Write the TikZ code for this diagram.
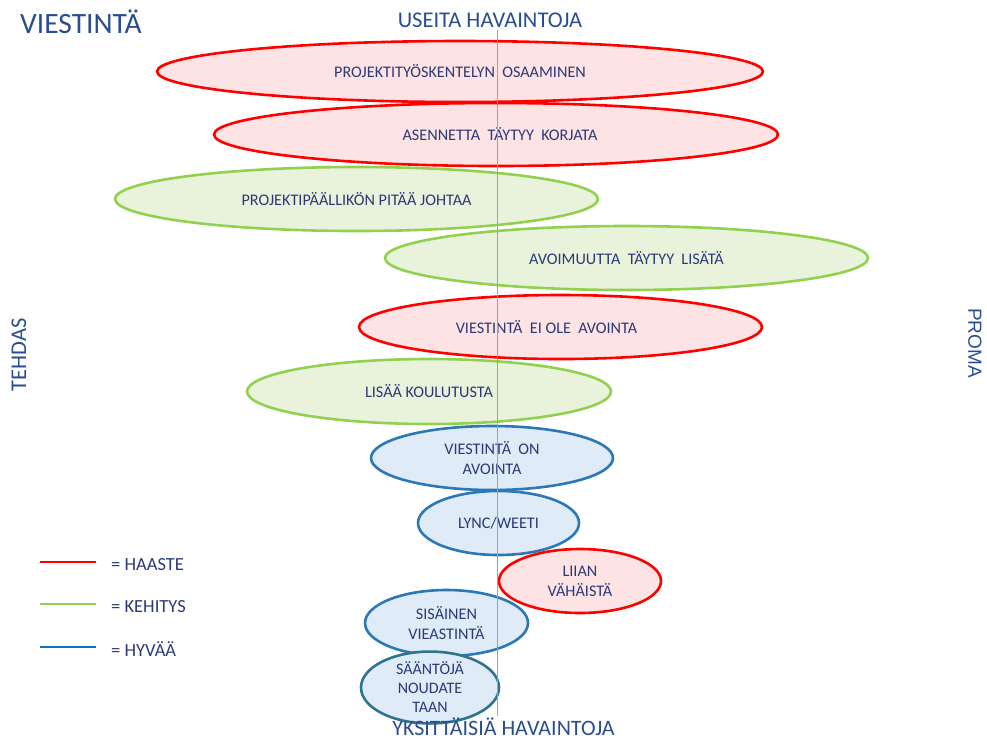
\documentclass[tikz,border=0pt]{standalone}
\usepackage{fontspec}
\setmainfont{Carlito}
\newfontfamily\arialfont{Liberation Sans}
\usetikzlibrary{shapes.geometric}

\definecolor{haasteline}{HTML}{FF0000}
\definecolor{haastefill}{HTML}{FDE3E3}
\definecolor{kehline}{HTML}{92D050}
\definecolor{kehfill}{HTML}{E9F3DC}
\definecolor{hyvline}{HTML}{2A78B6}
\definecolor{hyvdark}{HTML}{2F7390}
\definecolor{hyvfill}{HTML}{DFEBF6}
\definecolor{legblue}{HTML}{0E70C0}
\definecolor{bubbletext}{HTML}{2C3977}
\definecolor{headtext}{HTML}{2A4D92}
\definecolor{axisline}{HTML}{7FA8D8}

\tikzset{
  bubble/.style={ellipse, inner sep=0pt, line width=2.6pt, align=center,
    text=bubbletext, font=\fontsize{16.2}{20}\selectfont},
  haaste/.style={bubble, draw=haasteline, fill=haastefill},
  kehitys/.style={bubble, draw=kehline, fill=kehfill},
  hyvaa/.style={bubble, draw=hyvline, fill=hyvfill},
  bsize/.style 2 args={minimum width=#1pt, minimum height=#2pt},
  heading/.style={text=headtext, inner sep=0pt},
  legline/.style={line width=2.6pt},
  legtext/.style={text=bubbletext, inner sep=0pt, anchor=base west,
    font=\fontsize{18.5}{20}\selectfont},
}

\begin{document}
\begin{tikzpicture}[x=1pt,y=-1pt]
  \useasboundingbox (0,0) rectangle (987,740);

  % observation bubbles, from many observations to single ones
  \node[haaste, bsize={606}{61}] (e1) at (460,71.5) {PROJEKTITYÖSKENTELYN\ \ OSAAMINEN};
  \node[haaste, bsize={564}{63}] (e2) at (496,134.5) {\hspace*{8pt}ASENNETTA\ \ TÄYTYY\ \ KORJATA};
  \node[kehitys, bsize={483}{64}] (e3) at (356.5,199) {PROJEKTIPÄÄLLIKÖN PITÄÄ JOHTAA};
  \node[kehitys, bsize={483}{64}] (e4) at (626.5,258) {AVOIMUUTTA\ \ TÄYTYY\ \ LISÄTÄ};
  \node[haaste, bsize={403}{64}] (e5) at (560.5,327) {\hspace*{-28pt}VIESTINTÄ\ \ EI OLE\ \ AVOINTA};
  \node[kehitys, bsize={364}{65}] (e6) at (429,391.5) {LISÄÄ KOULUTUSTA};
  \node[hyvaa, bsize={242}{64}] (e7) at (492,458) {VIESTINTÄ\ \ ON\\AVOINTA};
  \node[hyvaa, bsize={161}{64}] (e8) at (498.5,523) {LYNC/WEETI};
  \node[haaste, bsize={162}{64}] (e9) at (580,581) {LIIAN\\VÄHÄISTÄ};
  \node[hyvaa, bsize={163}{66}] (e10) at (446.5,623) {SISÄINEN\\VIEASTINTÄ};
  \node[hyvaa, draw=hyvdark, bsize={138}{64}, font=\fontsize{16}{19}\selectfont] (e11) at (430,687.5) {SÄÄNTÖJÄ\\NOUDATE\\TAAN};

  % dividing axis between the two sides
  \coordinate (axtop) at (497,30);
  \coordinate (axbot) at (497,716);
  \draw[axisline, line width=1pt] (axtop) -- (axbot);

  % headings
  \node[heading, anchor=base west, font=\fontsize{29.5}{30}\selectfont] (title) at (20,33) {VIESTINTÄ};
  \node[heading, anchor=base, font=\fontsize{22.5}{24}\selectfont] (many) at (490,27) {USEITA HAVAINTOJA};
  \node[heading, anchor=base, font=\fontsize{22}{24}\selectfont] (single) at (503.5,735) {YKSITTÄISIÄ HAVAINTOJA};
  \node[heading, rotate=90, font=\fontsize{22.5}{24}\selectfont] (tehdas) at (19,355) {TEHDAS};
  \node[heading, rotate=-90, font=\arialfont\fontsize{19}{22}\selectfont] (proma) at (975,343) {PROMA};

  % legend
  \coordinate (l1a) at (40,562);  \coordinate (l1b) at (96,562);
  \coordinate (l2a) at (40,604);  \coordinate (l2b) at (96,604);
  \coordinate (l3a) at (40,647);  \coordinate (l3b) at (96,647);
  \draw[legline, haasteline] (l1a) -- (l1b);
  \draw[legline, kehline] (l2a) -- (l2b);
  \draw[legline, legblue] (l3a) -- (l3b);
  \node[legtext] (t1) at (111,570) {= HAASTE};
  \node[legtext] (t2) at (111,612) {= KEHITYS};
  \node[legtext] (t3) at (111,656) {= HYVÄÄ};
\end{tikzpicture}
\end{document}
